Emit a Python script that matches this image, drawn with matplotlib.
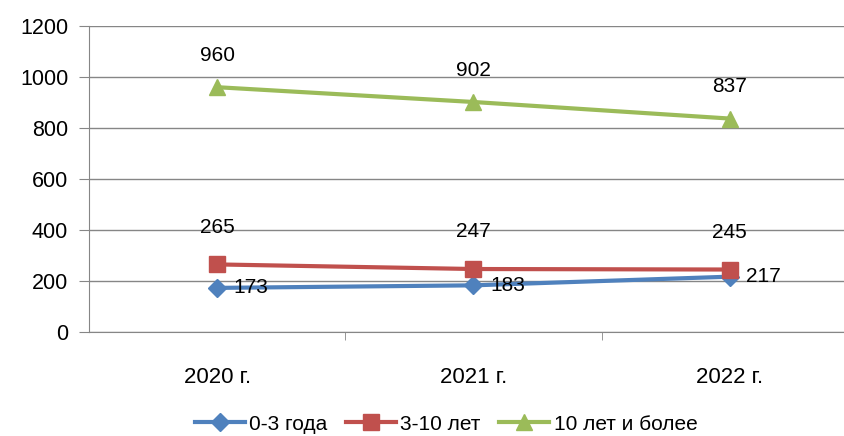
import matplotlib.pyplot as plt
import numpy as np

# Daten
jahre = ["2020 г.", "2021 г.", "2022 г."]
gruppe_0_3 = [173, 183, 217]
gruppe_3_10 = [265, 247, 245]
gruppe_10_plus = [960, 902, 837]

plt.rcParams['font.family'] = ['Liberation Sans', 'DejaVu Sans']

fig = plt.figure(figsize=(8.45, 4.36), dpi=100)
ax = fig.add_axes([89 / 845, 1 - 332 / 436, 769 / 845, 306 / 436])

x = np.arange(len(jahre))
ax.plot(x, gruppe_0_3, color='#4F81BD', linewidth=3, marker='D', markersize=9, label='0-3 года')
ax.plot(x, gruppe_3_10, color='#C0504D', linewidth=3, marker='s', markersize=11, label='3-10 лет')
ax.plot(x, gruppe_10_plus, color='#9BBB59', linewidth=3, marker='^', markersize=12, label='10 лет и более')

# Beschriftungen der Werte
for xi, v in zip(x, gruppe_0_3):
    ax.annotate(str(v), (xi, v), xytext=(12, 0), textcoords='offset points',
                ha='left', va='center', fontsize=15, color='black')
for xi, v in zip(x, gruppe_3_10):
    ax.annotate(str(v), (xi, v), xytext=(0, 20), textcoords='offset points',
                ha='center', va='bottom', fontsize=15, color='black')
for xi, v in zip(x, gruppe_10_plus):
    ax.annotate(str(v), (xi, v), xytext=(0, 16), textcoords='offset points',
                ha='center', va='bottom', fontsize=15, color='black')

ax.set_xlim(-0.5, 2.5)
ax.set_ylim(0, 1200)
ax.set_yticks(range(0, 1201, 200))
ax.set_xticks(x)
ax.set_xticklabels(jahre, fontsize=16)
ax.set_xticks([0.5, 1.5], minor=True)
ax.tick_params(axis='x', which='major', length=0, pad=25)
ax.tick_params(axis='x', which='minor', length=6, color='#868686', direction='out')
ax.tick_params(axis='y', length=7, color='#868686', labelsize=15.5, pad=8)

ax.grid(axis='y', color='#868686', linewidth=1)
ax.set_axisbelow(True)
for s in ['top', 'right']:
    ax.spines[s].set_visible(False)
ax.spines['left'].set_color('#868686')
ax.spines['bottom'].set_color('#868686')

fig.legend(loc='center', bbox_to_anchor=(0.528, 1 - 424 / 436), ncol=3, frameon=False,
           fontsize=15, handlelength=2.4, columnspacing=0.9, handletextpad=0.2)

fig.savefig('out.png', dpi=100)
